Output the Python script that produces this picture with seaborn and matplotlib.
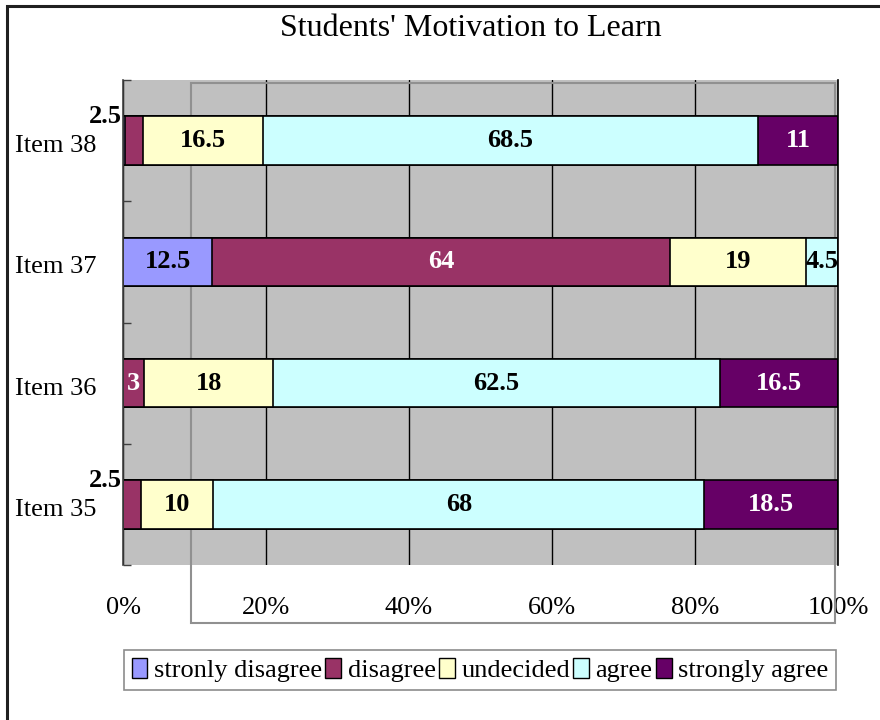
import numpy as np
import pandas as pd
import matplotlib
matplotlib.use("Agg")
import matplotlib.pyplot as plt
from matplotlib.patches import Rectangle, Patch
import matplotlib.transforms as mtransforms
import seaborn as sns

# ---- data ----
items = ["Item 38", "Item 37", "Item 36", "Item 35"]
series = ["stronly disagree", "disagree", "undecided", "agree", "strongly agree"]
strongly_disagree = [0.3, 12.5, 0, 0]
disagree = [2.5, 64, 3, 2.5]
undecided = [16.5, 19, 18, 10]
agree = [68.5, 4.5, 62.5, 68]
strongly_agree = [11, 0, 16.5, 18.5]
colors = ["#9999FF", "#993366", "#FFFFCC", "#CCFFFF", "#660066"]
label_colors = ["black", "white", "black", "black", "white"]
x_ticks = [0, 20, 40, 60, 80, 100]
x_tick_labels = ["0%", "20%", "40%", "60%", "80%", "100%"]
title = "Students' Motivation to Learn"

sns.set_theme(style="white")
plt.rcParams["font.family"] = ["Liberation Serif", "DejaVu Serif"]
plt.rcParams["text.color"] = "black"
plt.rcParams["xtick.color"] = "black"
plt.rcParams["ytick.color"] = "black"

W, H = 880, 720
fig = plt.figure(figsize=(W / 100, H / 100), dpi=100)
fig.patch.set_facecolor("white")

def fx(px):
    return px / W

def fy(py):
    return 1 - py / H

ax = fig.add_axes([fx(123), fy(565), fx(838) - fx(123), fy(80) - fy(565)])
ax.set_facecolor("#C0C0C0")
ax.set_axisbelow(True)

vals = np.array([strongly_disagree, disagree, undecided, agree, strongly_agree], dtype=float)
pct = vals / vals.sum(axis=0) * 100
cum = np.cumsum(pct, axis=0)

# back-wall outline (Excel style offset plot area)
ax.add_patch(Rectangle((fx(191), fy(623)), fx(835) - fx(191), fy(83) - fy(623),
                       transform=fig.transFigure, clip_on=False, fill=False,
                       edgecolor="#909090", lw=1.5, zorder=0.6))

# stacked bars via overlay of cumulative sums
for i in range(len(series) - 1, -1, -1):
    df = pd.DataFrame({"item": items, "value": cum[i]})
    sns.barplot(data=df, x="value", y="item", order=items, orient="h",
                color=colors[i], saturation=1, width=0.4, edgecolor="black",
                linewidth=1.2, errorbar=None, ax=ax, zorder=2)

LBL = 19
# data labels
for i in range(len(series)):
    for j, it in enumerate(items):
        v = vals[i, j]
        if v < 1:
            continue
        start = cum[i, j] - pct[i, j]
        if v < 3:
            ax.text(-0.1, j - 0.2, f"{v:g}", ha="right", va="center",
                    fontsize=LBL, fontweight="bold", color="black", clip_on=False, zorder=5)
        else:
            ax.text(start + pct[i, j] / 2, j, f"{v:g}", ha="center", va="center",
                    fontsize=LBL, fontweight="bold", color=label_colors[i], zorder=5)

ax.set_xlim(0, 100)
ax.set_ylim(3.5, -0.5)
ax.set_xticks(x_ticks)
ax.set_xticklabels(x_tick_labels, fontsize=19)
ax.set_yticks(range(len(items)))
ax.set_yticklabels(items, fontsize=19)
ax.set_yticks([-0.5, 0.5, 1.5, 2.5, 3.5], minor=True)
ax.tick_params(axis="x", which="major", length=0, pad=23, colors="black")
ax.tick_params(axis="y", which="major", length=0, pad=19, colors="black")
ax.tick_params(axis="y", which="minor", direction="in", length=6, width=1, color="#404040", left=True)
offset = mtransforms.ScaledTranslation(0, -3 / 100, fig.dpi_scale_trans)
for lab in ax.get_yticklabels():
    lab.set_transform(lab.get_transform() + offset)
ax.set_xlabel("")
ax.set_ylabel("")
ax.xaxis.grid(True, color="black", lw=1)
ax.yaxis.grid(False)
for s in ["top", "bottom"]:
    ax.spines[s].set_visible(False)
ax.spines["left"].set_color("#404040")
ax.spines["left"].set_linewidth(1.2)
ax.spines["right"].set_visible(True)
ax.spines["right"].set_color("black")
ax.spines["right"].set_linewidth(1.2)

fig.text(fx(471), fy(28), title, ha="center", va="center", fontsize=23, color="black")

handles = [Patch(facecolor=c, edgecolor="black", lw=1) for c in colors]
leg = fig.legend(handles, series, loc="center", bbox_to_anchor=(fx(480), fy(670)),
                 ncol=5, fontsize=19, frameon=True, fancybox=False,
                 handlelength=0.6, handleheight=0.8, handletextpad=0.25,
                 columnspacing=0.12, borderpad=0.3, borderaxespad=0)
leg.get_frame().set_edgecolor("#707070")
leg.get_frame().set_linewidth(1.2)
for t in leg.get_texts():
    t.set_color("black")

# outer chart border
fig.add_artist(Rectangle((fx(7), fy(730)), fx(890) - fx(7), fy(6) - fy(730),
                         transform=fig.transFigure, fill=False, edgecolor="#202020", lw=2.2))

fig.savefig("out.png", dpi=100)
